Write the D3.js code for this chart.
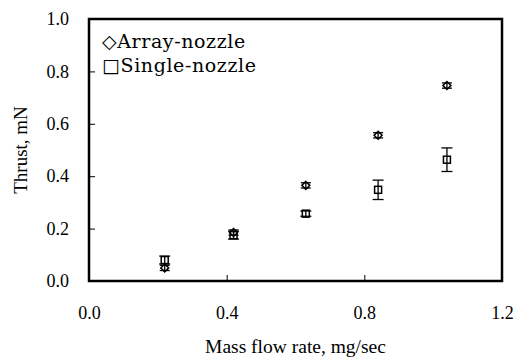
<!DOCTYPE html>
<html>
<head>
<meta charset="utf-8">
<script src="https://cdn.jsdelivr.net/npm/d3@7"></script>
<style>
  body { margin: 0; background: #fff; }
  svg { display: block; }
  .tick text { font-family: "Liberation Serif", "Times New Roman", serif; font-size: 18px; fill: #000; }
</style>
</head>
<body>
<svg width="516" height="360"></svg>
<script>
// Data
const massFlow = [0.22, 0.42, 0.63, 0.84, 1.04];
const arrayThrust = [0.05, 0.185, 0.365, 0.556, 0.746];
const arrayErr = [0.01, 0.01, 0.01, 0.01, 0.01];
const singleThrust = [0.08, 0.175, 0.257, 0.348, 0.463];
const singleErr = [0.015, 0.015, 0.01, 0.037, 0.045];
const xTicks = [0.0, 0.4, 0.8, 1.2];
const yTicks = [0.0, 0.2, 0.4, 0.6, 0.8, 1.0];
const legendLabels = ["\u25C7Array-nozzle", "\u25A1Single-nozzle"];

const svg = d3.select("svg");
const margin = { top: 19, right: 14, bottom: 79, left: 89 };
const width = 516 - margin.left - margin.right;
const height = 360 - margin.top - margin.bottom;

const g = svg
  .append("g")
  .attr("transform", `translate(${margin.left},${margin.top})`);

const x = d3.scaleLinear().domain([0, 1.2]).range([0, width]);
const y = d3.scaleLinear().domain([0, 1.0]).range([height, 0]);

// Axes with inward ticks
const xAxis = g
  .append("g")
  .attr("transform", `translate(0,${height})`)
  .call(
    d3.axisBottom(x).tickValues(xTicks).tickSize(-6).tickPadding(25)
      .tickFormat(d3.format(".1f"))
  );
const yAxis = g
  .append("g")
  .call(
    d3.axisLeft(y).tickValues(yTicks).tickSize(-6).tickPadding(20)
      .tickFormat(d3.format(".1f"))
  );
[xAxis, yAxis].forEach((a) => {
  a.select(".domain").remove();
  a.selectAll(".tick line").attr("stroke", "#000").attr("stroke-width", 1);
});

// Plot frame
g.append("rect")
  .attr("x", 0)
  .attr("y", 0)
  .attr("width", width)
  .attr("height", height)
  .attr("fill", "none")
  .attr("stroke", "#000")
  .attr("stroke-width", 2.5);

// Error bars
function errorBars(vals, errs, cap) {
  const eb = g.append("g").attr("stroke", "#000").attr("stroke-width", 1.3);
  massFlow.forEach((m, i) => {
    const cx = x(m);
    const y0 = y(vals[i] - errs[i]);
    const y1 = y(vals[i] + errs[i]);
    eb.append("line").attr("x1", cx).attr("x2", cx).attr("y1", y0).attr("y2", y1);
    eb.append("line").attr("x1", cx - cap).attr("x2", cx + cap).attr("y1", y0).attr("y2", y0);
    eb.append("line").attr("x1", cx - cap).attr("x2", cx + cap).attr("y1", y1).attr("y2", y1);
  });
}
errorBars(singleThrust, singleErr, 5.5);
errorBars(arrayThrust, arrayErr, 5);

// Markers
const diamond = d3.symbol().type(d3.symbolDiamond2).size(40);
g.append("g")
  .selectAll("path")
  .data(massFlow)
  .join("path")
  .attr("d", diamond)
  .attr("transform", (d, i) => `translate(${x(d)},${y(arrayThrust[i])})`)
  .attr("fill", "none")
  .attr("stroke", "#000")
  .attr("stroke-width", 1.5);

g.append("g")
  .selectAll("rect")
  .data(massFlow)
  .join("rect")
  .attr("x", (d) => x(d) - 3.5)
  .attr("y", (d, i) => y(singleThrust[i]) - 3.5)
  .attr("width", 7)
  .attr("height", 7)
  .attr("fill", "none")
  .attr("stroke", "#000")
  .attr("stroke-width", 1.5);

// Legend
g.append("g")
  .selectAll("text")
  .data(legendLabels)
  .join("text")
  .attr("x", 13)
  .attr("y", (d, i) => 29 + i * 24)
  .attr("font-family", "'DejaVu Serif', serif")
  .attr("font-size", 19)
  .attr("letter-spacing", 0.6)
  .attr("fill", "#000")
  .text((d) => d);

// Axis titles
svg.append("text")
  .attr("x", margin.left + width / 2)
  .attr("y", 353)
  .attr("text-anchor", "middle")
  .attr("font-family", "'Liberation Serif', serif")
  .attr("font-size", 19.5)
  .text("Mass flow rate, mg/sec");

svg.append("text")
  .attr("transform", `translate(27,${margin.top + height / 2}) rotate(-90)`)
  .attr("text-anchor", "middle")
  .attr("font-family", "'Liberation Serif', serif")
  .attr("font-size", 19)
  .text("Thrust, mN");
</script>
</body>
</html>
